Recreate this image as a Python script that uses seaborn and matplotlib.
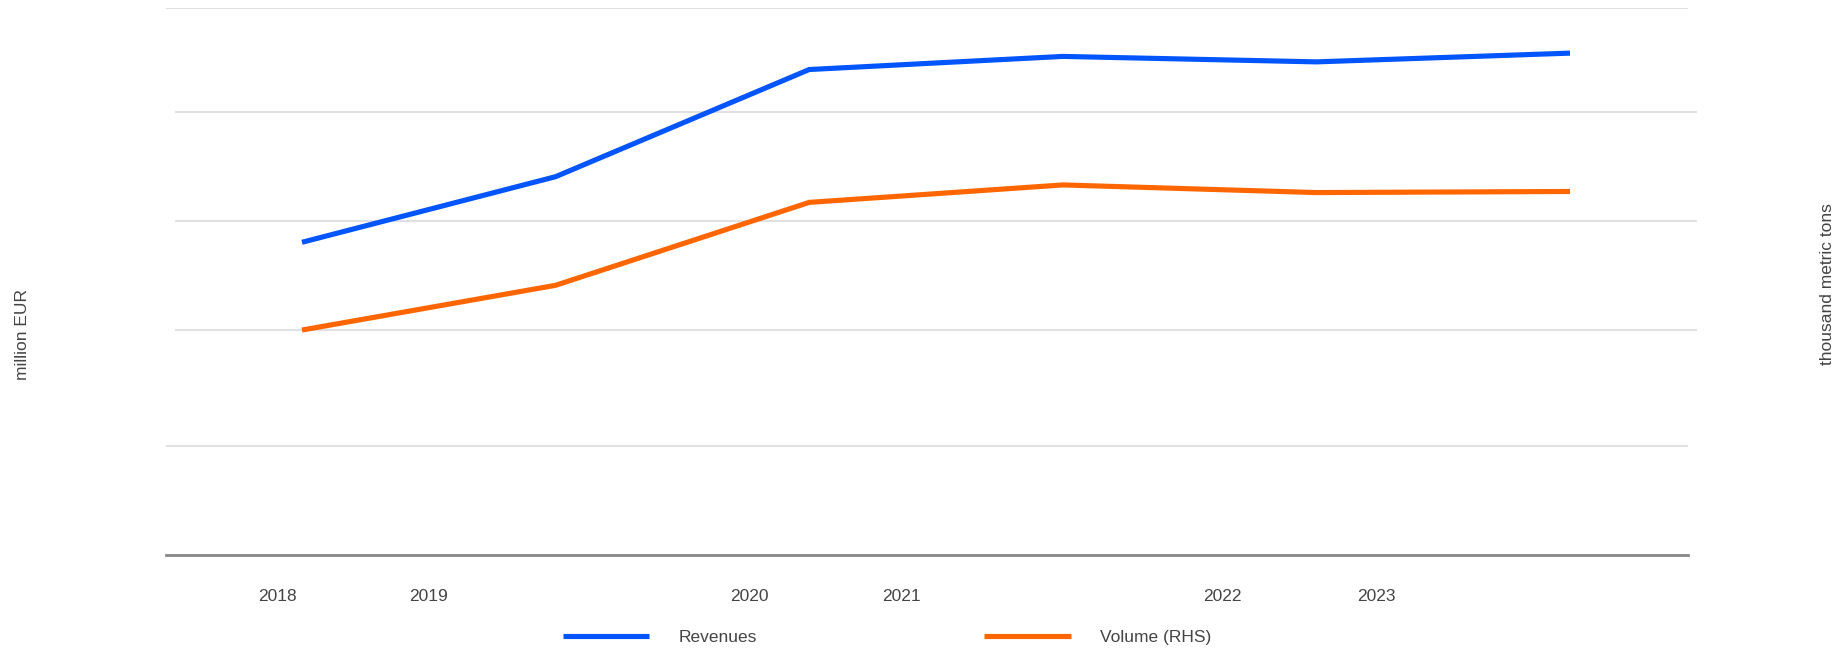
import numpy as np
import pandas as pd
import matplotlib
matplotlib.use("Agg")
import matplotlib.pyplot as plt
import seaborn as sns

# --- data -------------------------------------------------------------
years = ["2018", "2019", "2020", "2021", "2022", "2023"]
revenues = [286, 346, 444, 456, 451, 459]          # million EUR (left axis)
volume = [200, 241, 317, 333, 326, 327]            # thousand metric tons (right axis)
series_labels = ["Revenues", "Volume (RHS)"]
left_axis_title = "million EUR"
right_axis_title = "thousand metric tons"

df = pd.DataFrame({"idx": np.arange(len(years)), "Revenues": revenues, "Volume": volume})

# --- style ------------------------------------------------------------
sns.set_theme(style="white")
plt.rcParams["font.family"] = ["Liberation Sans", "DejaVu Sans"]
TXT = "#444444"
BLUE = "#0055ff"
ORANGE = "#ff6600"
GRID = "#e0e0e0"
FS = 12.5

W, H = 1841, 651
fig = plt.figure(figsize=(W / 100, H / 100), dpi=100)

top_px, bot_px = 8.3, 555
ax_h = (bot_px - top_px) / H
ax_b = 1 - bot_px / H

# right-hand axis sits slightly shifted to the right of the main one
ax2 = fig.add_axes([175 / W, ax_b, (1696.7 - 175) / W, ax_h])
ax1 = fig.add_axes([165.5 / W, ax_b, (1687.5 - 165.5) / W, ax_h])
ax1.set_zorder(3)
ax2.set_zorder(2)
ax1.patch.set_visible(False)

step = 253.6  # px per year
x0 = 302.0    # px of first year
ax1.set_xlim((165.5 - x0) / step, (1687.5 - x0) / step)
ax2.set_xlim((175 - x0) / step, (1696.7 - x0) / step)

# left axis: 0..500, gridlines shown at 0, 100, 500
ax1.set_ylim(0, 500)
ax1.set_yticks([0, 100, 500])
# right axis gridlines
ax2.set_ylim(-6.2, 494.9)
ax2.set_yticks([200, 300, 400])

for ax in (ax1, ax2):
    for s in ax.spines.values():
        s.set_visible(False)
    ax.tick_params(axis="y", length=0, labelleft=False, labelright=False)
    ax.grid(axis="y", color=GRID, linewidth=1.5)
    ax.grid(axis="x", visible=False)
    ax.set_axisbelow(True)

# baseline
ax1.spines["bottom"].set_visible(True)
ax1.spines["bottom"].set_color("#888888")
ax1.spines["bottom"].set_linewidth(2.0)
ax1.spines["bottom"].set_position(("data", 0))

sns.lineplot(data=df, x="idx", y="Revenues", ax=ax1, color=BLUE, linewidth=3.7,
             legend=False, solid_capstyle="butt")
sns.lineplot(data=df, x="idx", y="Volume", ax=ax2, color=ORANGE, linewidth=3.7,
             legend=False, solid_capstyle="butt")
for ax in (ax1, ax2):
    ax.set_ylabel("")
    ax.set_xlabel("")

# year labels along the bottom
label_pos = [(p - x0) / step for p in (277, 428.5, 749, 901.6, 1222, 1376)]
ax1.set_xticks(label_pos)
ax1.set_xticklabels(years, fontsize=FS, color=TXT)
ax1.tick_params(axis="x", length=0, pad=24.5)
ax2.set_xticks([])

# axis titles
fig.text(23 / W, 1 - 334 / H, left_axis_title, rotation=90, ha="center", va="center",
         fontsize=FS, color=TXT)
fig.text(1827 / W, 1 - 284 / H, right_axis_title, rotation=90, ha="center", va="center",
         fontsize=FS, color=TXT)

handles = [ax1.lines[-1], ax2.lines[-1]]
fig.legend(handles, series_labels, loc="center", ncol=2,
           bbox_to_anchor=(887 / W, 1 - 637.5 / H), frameon=False,
           fontsize=FS, labelcolor=TXT, handlelength=5.0, handletextpad=1.7,
           columnspacing=13.05, borderpad=0, borderaxespad=0)

fig.savefig("out.png", dpi=100)
